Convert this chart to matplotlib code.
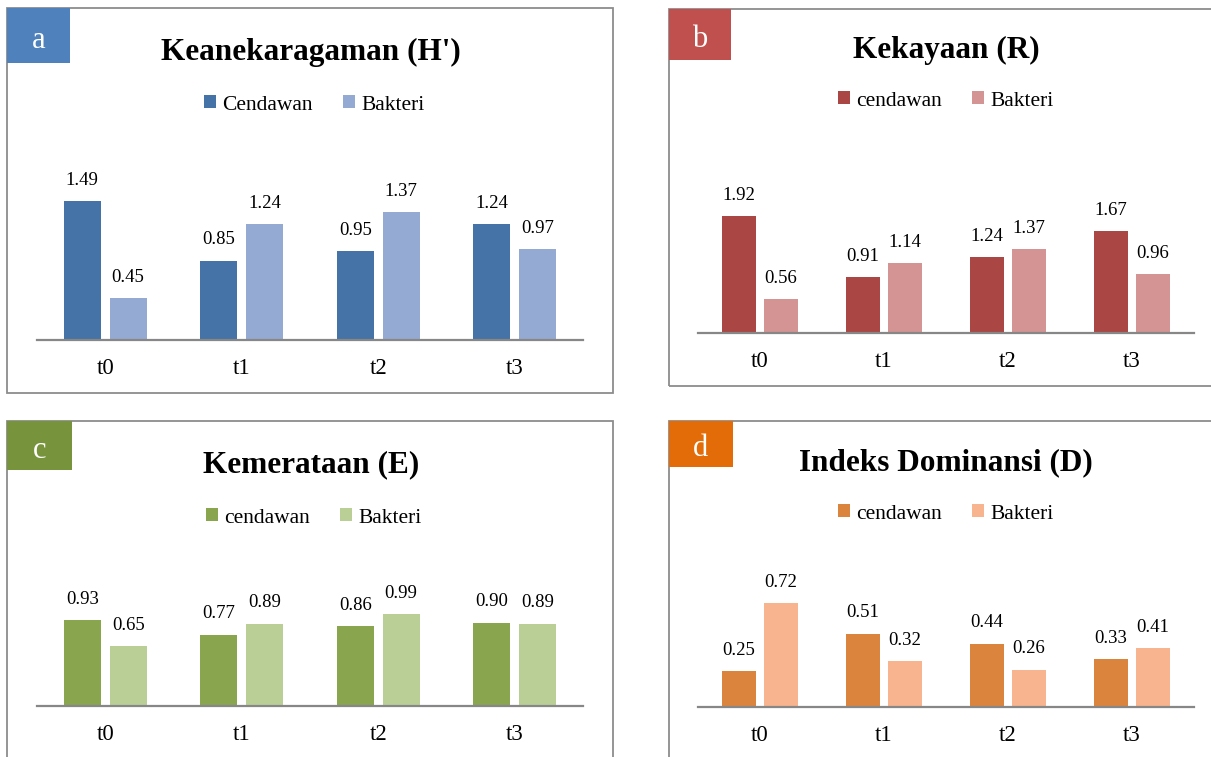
import matplotlib.pyplot as plt
from matplotlib.patches import Rectangle
import numpy as np

# Data
categories = ["t0", "t1", "t2", "t3"]

h_cendawan = [1.49, 0.85, 0.95, 1.24]
h_bakteri = [0.45, 1.24, 1.37, 0.97]

r_cendawan = [1.92, 0.91, 1.24, 1.67]
r_bakteri = [0.56, 1.14, 1.37, 0.96]

e_cendawan = [0.93, 0.77, 0.86, 0.90]
e_bakteri = [0.65, 0.89, 0.99, 0.89]

d_cendawan = [0.25, 0.51, 0.44, 0.33]
d_bakteri = [0.72, 0.32, 0.26, 0.41]

W, H = 1211, 757
plt.rcParams["font.family"] = ["Liberation Serif", "DejaVu Serif"]


def fig_rect(x0, y0, x1, y1):
    """Convert pixel box (top-left origin) into figure fraction rect."""
    return [x0 / W, 1 - y1 / H, (x1 - x0) / W, (y1 - y0) / H]


def draw_panel(fig, letter, title, legend_name, cendawan, bakteri, colors, box, tag,
               axes_box, baseline_scale, title_xy, legend_xy):
    """
    Draw one bordered panel with tag square, title, legend and grouped bars.
    """
    # Panel border
    bx0, by0, bx1, by1 = box
    fig.add_artist(Rectangle((bx0 / W, 1 - by1 / H), (bx1 - bx0) / W, (by1 - by0) / H,
                             transform=fig.transFigure, fill=False,
                             edgecolor="#8c8c8c", linewidth=1.3, zorder=1))

    # Coloured tag square with the panel letter
    tx0, ty0, tx1, ty1 = tag
    fig.add_artist(Rectangle((tx0 / W, 1 - ty1 / H), (tx1 - tx0) / W, (ty1 - ty0) / H,
                             transform=fig.transFigure, facecolor=colors[2],
                             edgecolor="none", zorder=2))
    fig.text((tx0 + tx1) / 2 / W, 1 - ((ty0 + ty1) / 2 + 5) / H, letter,
             color="white", fontsize=22, ha="center", va="center")

    # Title
    fig.text(title_xy[0] / W, 1 - title_xy[1] / H, title, fontsize=22.5,
             fontweight="bold", ha="center", va="center")

    # Bars
    ax = fig.add_axes(fig_rect(*axes_box))
    x = np.arange(len(categories))
    width = 0.27
    offset = 0.168
    b1 = ax.bar(x - offset, cendawan, width, color=colors[0], label=legend_name)
    b2 = ax.bar(x + offset, bakteri, width, color=colors[1], label="Bakteri")

    # Value labels above the bars
    for bars, vals in ((b1, cendawan), (b2, bakteri)):
        for rect, v in zip(bars, vals):
            ax.annotate(f"{v:.2f}", (rect.get_x() + rect.get_width() / 2, v),
                        xytext=(0, 15), textcoords="offset points",
                        ha="center", va="center", fontsize=13.5)

    # Axis styling: only the category axis line is visible
    ax.set_xlim(-0.5, len(categories) - 0.5)
    plot_h = axes_box[3] - axes_box[1]
    ax.set_ylim(0, plot_h / baseline_scale)
    ax.set_xticks(x)
    ax.set_xticklabels(categories, fontsize=16.5)
    ax.tick_params(axis="x", length=0, pad=13)
    ax.set_yticks([])
    for side in ("top", "left", "right"):
        ax.spines[side].set_visible(False)
    ax.spines["bottom"].set_color("#878787")
    ax.spines["bottom"].set_linewidth(1.6)
    ax.patch.set_alpha(0)

    # Legend centred under the title
    fig.legend(handles=[b1, b2], loc="center",
               bbox_to_anchor=(legend_xy[0] / W, 1 - legend_xy[1] / H),
               ncol=2, frameon=False, fontsize=15.5, handlelength=0.55,
               handleheight=0.55, handletextpad=0.3, columnspacing=1.4)
    return ax


fig = plt.figure(figsize=(W / 100, H / 100), dpi=100)

# Panel a
draw_panel(fig, "a", "Keanekaragaman (H')", "Cendawan", h_cendawan, h_bakteri,
           ("#4572A7", "#95AAD2", "#4F81BD"),
           box=(7, 8, 613, 393), tag=(7, 8, 70, 63),
           axes_box=(37, 150, 583, 340), baseline_scale=93.3,
           title_xy=(311, 52), legend_xy=(314, 105))

# Panel b
draw_panel(fig, "b", "Kekayaan (R)", "cendawan", r_cendawan, r_bakteri,
           ("#AA4643", "#D49493", "#C0504D"),
           box=(669, 9, 1240, 386), tag=(669, 9, 731, 60),
           axes_box=(698, 150, 1194, 333), baseline_scale=61.0,
           title_xy=(946, 50), legend_xy=(946, 101))

# Panel c
draw_panel(fig, "c", "Kemerataan (E)", "cendawan", e_cendawan, e_bakteri,
           ("#89A54E", "#BACF96", "#77933C"),
           box=(7, 421, 613, 780), tag=(7, 421, 72, 470),
           axes_box=(37, 540, 583, 706), baseline_scale=92.5,
           title_xy=(311, 465), legend_xy=(314, 518))

# Panel d
draw_panel(fig, "d", "Indeks Dominansi (D)", "cendawan", d_cendawan, d_bakteri,
           ("#DB843D", "#F8B48F", "#E36C09"),
           box=(669, 421, 1240, 780), tag=(669, 421, 733, 467),
           axes_box=(698, 540, 1194, 707), baseline_scale=144.0,
           title_xy=(946, 463), legend_xy=(946, 514))

fig.savefig("out.png", dpi=100)
